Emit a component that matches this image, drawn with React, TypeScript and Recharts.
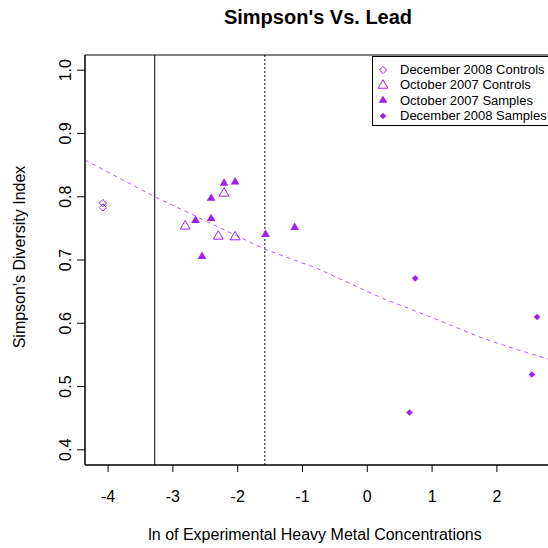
import React from 'react'
import {
  ComposedChart,
  Scatter,
  Line,
  XAxis,
  YAxis,
  ReferenceLine,
  ReferenceArea,
} from 'recharts'

const PURPLE = '#A020F0'
const FONT = '"Liberation Sans", Arial, Helvetica, sans-serif'

// ln(concentration) vs Simpson's index, one array per sample group
const dec2008Controls = [
  { x: -4.08, y: 0.79 },
  { x: -4.08, y: 0.783 },
]
const oct2007Controls = [
  { x: -2.81, y: 0.754 },
  { x: -2.21, y: 0.806 },
  { x: -2.3, y: 0.738 },
  { x: -2.04, y: 0.737 },
]
const oct2007Samples = [
  { x: -2.21, y: 0.822 },
  { x: -2.04, y: 0.824 },
  { x: -2.41, y: 0.798 },
  { x: -2.65, y: 0.763 },
  { x: -2.41, y: 0.766 },
  { x: -1.57, y: 0.741 },
  { x: -1.12, y: 0.752 },
  { x: -2.55, y: 0.706 },
]
const dec2008Samples = [
  { x: 0.74, y: 0.671 },
  { x: 2.62, y: 0.61 },
  { x: 2.54, y: 0.519 },
  { x: 0.65, y: 0.459 },
]

// smoothed trend
const trend = [
  { x: -4.356, y: 0.858 },
  { x: -3.28, y: 0.8 },
  { x: -2.5, y: 0.762 },
  { x: -1.58, y: 0.717 },
  { x: -0.78, y: 0.687 },
  { x: 0.2, y: 0.641 },
  { x: 1.0, y: 0.609 },
  { x: 1.74, y: 0.578 },
  { x: 2.2, y: 0.562 },
  { x: 2.866, y: 0.541 },
]

const xTicks = [-4, -3, -2, -1, 0, 1, 2]
const yTicks = [0.4, 0.5, 0.6, 0.7, 0.8, 0.9, 1.0]
const xDomain = [-4.356, 2.866]
const yDomain = [0.376, 1.024]
const controlCut = -3.28
const sampleCut = -1.58

const legendItems = [
  { name: 'December 2008 Controls', kind: 'openDiamond' },
  { name: 'October 2007 Controls', kind: 'openTriangle' },
  { name: 'October 2007 Samples', kind: 'filledTriangle' },
  { name: 'December 2008 Samples', kind: 'filledDiamond' },
]

type Kind = 'openDiamond' | 'openTriangle' | 'filledTriangle' | 'filledDiamond'

function marker(kind: Kind, cx: number, cy: number) {
  switch (kind) {
    case 'openDiamond': {
      const r = 3.6
      return (
        <path
          d={`M${cx},${cy - r} L${cx + r},${cy} L${cx},${cy + r} L${cx - r},${cy} Z`}
          fill="none"
          stroke={PURPLE}
          strokeWidth={1}
        />
      )
    }
    case 'openTriangle': {
      const r = 5.2
      return (
        <path
          d={`M${cx},${cy - r} L${cx + r * 0.95},${cy + r * 0.62} L${cx - r * 0.95},${cy + r * 0.62} Z`}
          fill="none"
          stroke={PURPLE}
          strokeWidth={1}
        />
      )
    }
    case 'filledTriangle': {
      const r = 4.6
      return (
        <path
          d={`M${cx},${cy - r} L${cx + r * 0.95},${cy + r * 0.62} L${cx - r * 0.95},${cy + r * 0.62} Z`}
          fill={PURPLE}
        />
      )
    }
    default: {
      const r = 3.3
      return (
        <path
          d={`M${cx},${cy - r} L${cx + r},${cy} L${cx},${cy + r} L${cx - r},${cy} Z`}
          fill={PURPLE}
        />
      )
    }
  }
}

const shapeFor = (kind: Kind) => (props: any) => marker(kind, props.cx, props.cy)

function LegendBox() {
  return (
    <div
      style={{
        position: 'absolute',
        left: 372,
        top: 56,
        border: '1px solid #000',
        background: '#fff',
        width: 200,
        height: 70,
        boxSizing: 'border-box',
        padding: '5px 0 0 0',
        fontFamily: FONT,
        fontSize: 13,
        lineHeight: '15px',
        color: '#000',
      }}
    >
      {legendItems.map((item) => (
        <div key={item.name} style={{ display: 'flex', alignItems: 'center', height: 15.3 }}>
          <svg width={27} height={14} style={{ flex: 'none' }}>
            {marker(item.kind as Kind, 10, 7)}
          </svg>
          <span style={{ whiteSpace: 'nowrap' }}>{item.name}</span>
        </div>
      ))}
    </div>
  )
}

function XTick({ x, y, payload }: any) {
  return (
    <text x={x} y={y + 28} textAnchor="middle" fontSize={16} fontFamily={FONT} fill="#000">
      {payload.value}
    </text>
  )
}

function YTick({ x, y, payload }: any) {
  const bx = x - 4
  return (
    <text
      x={bx}
      y={y}
      textAnchor="middle"
      fontSize={16}
      fontFamily={FONT}
      fill="#000"
      transform={`rotate(-90, ${bx}, ${y})`}
    >
      {Number(payload.value).toFixed(1)}
    </text>
  )
}

export default function App() {
  return (
    <div
      style={{
        position: 'absolute',
        left: 0,
        top: 0,
        width: 548,
        height: 548,
        overflow: 'hidden',
        background: '#fff',
      }}
    >
      <div
        style={{
          position: 'absolute',
          left: 0,
          top: 6,
          width: 636,
          textAlign: 'center',
          fontFamily: FONT,
          fontSize: 20,
          fontWeight: 'bold',
          color: '#000',
        }}
      >
        Simpson's Vs. Lead
      </div>
      <ComposedChart
        width={560}
        height={548}
        margin={{ top: 55, right: 7, left: 0, bottom: 0 }}
      >
        <XAxis
          type="number"
          dataKey="x"
          domain={xDomain}
          ticks={xTicks}
          allowDataOverflow
          height={83}
          tickSize={7}
          tickLine={{ stroke: '#000' }}
          axisLine={{ stroke: '#000' }}
          tick={<XTick />}
          label={({ viewBox }: any) => (
            <text
              x={viewBox.x + viewBox.width / 2 - 4}
              y={viewBox.y + 75}
              textAnchor="middle"
              fontSize={16}
              fontFamily={FONT}
              fill="#000"
            >
              ln of Experimental Heavy Metal Concentrations
            </text>
          )}
        />
        <YAxis
          type="number"
          domain={yDomain}
          ticks={yTicks}
          allowDataOverflow
          width={85}
          tickSize={8}
          tickLine={{ stroke: '#000' }}
          axisLine={{ stroke: '#000' }}
          tick={<YTick />}
          label={({ viewBox }: any) => {
            const cx = 24.5
            const cy = viewBox.y + viewBox.height / 2 - 3
            return (
              <text
                x={cx}
                y={cy}
                textAnchor="middle"
                fontSize={16}
                fontFamily={FONT}
                fill="#000"
                transform={`rotate(-90, ${cx}, ${cy})`}
              >
                Simpson's Diversity Index
              </text>
            )
          }}
        />
        <ReferenceArea
          x1={xDomain[0]}
          x2={xDomain[1]}
          y1={yDomain[0]}
          y2={yDomain[1]}
          fill="none"
          stroke="#000"
          strokeWidth={1}
        />
        <ReferenceLine x={controlCut} stroke="#000" strokeWidth={1} />
        <ReferenceLine x={sampleCut} stroke="#000" strokeWidth={1} strokeDasharray="2 2" />
        <Line
          data={trend}
          dataKey="y"
          type="linear"
          stroke={PURPLE}
          strokeOpacity={0.75}
          strokeWidth={1}
          strokeDasharray="4 4"
          dot={false}
          activeDot={false}
          legendType="none"
          isAnimationActive={false}
        />
        <Scatter
          name="December 2008 Controls"
          data={dec2008Controls}
          dataKey="y"
          shape={shapeFor('openDiamond')}
          isAnimationActive={false}
        />
        <Scatter
          name="October 2007 Controls"
          data={oct2007Controls}
          dataKey="y"
          shape={shapeFor('openTriangle')}
          isAnimationActive={false}
        />
        <Scatter
          name="October 2007 Samples"
          data={oct2007Samples}
          dataKey="y"
          shape={shapeFor('filledTriangle')}
          isAnimationActive={false}
        />
        <Scatter
          name="December 2008 Samples"
          data={dec2008Samples}
          dataKey="y"
          shape={shapeFor('filledDiamond')}
          isAnimationActive={false}
        />
      </ComposedChart>
      <LegendBox />
    </div>
  )
}
